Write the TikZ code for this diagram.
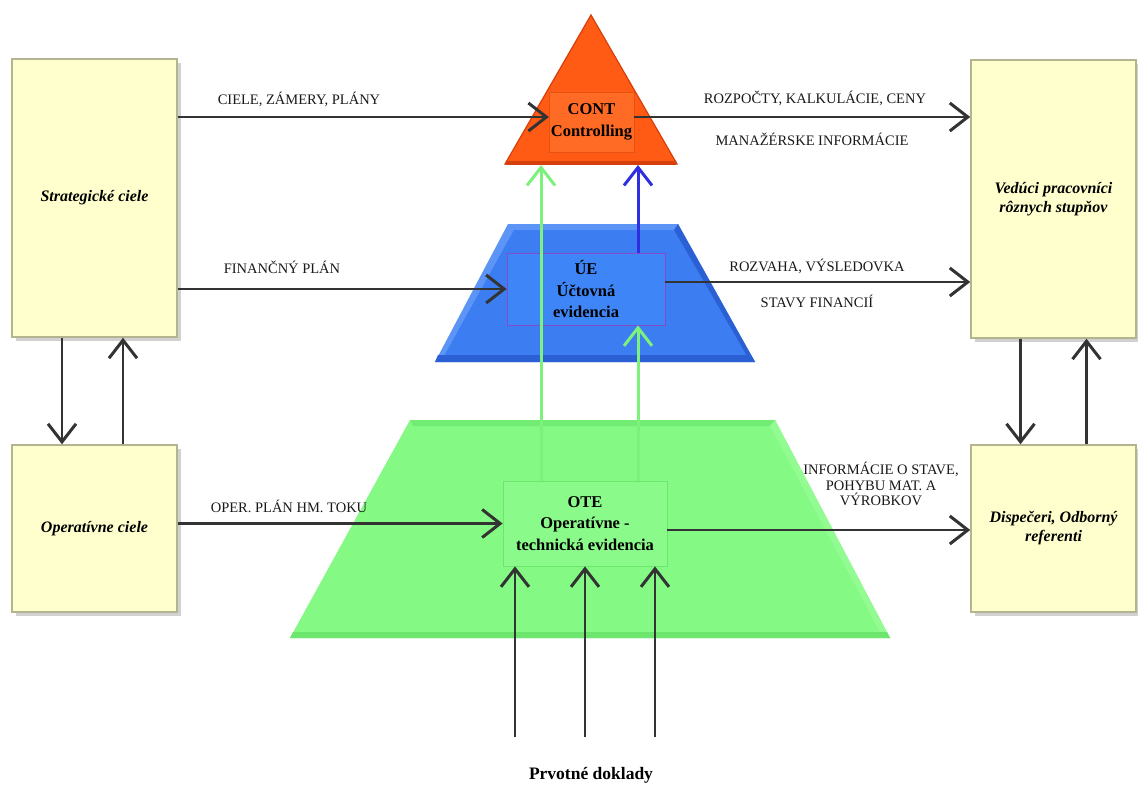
\documentclass[tikz,border=0pt]{standalone}
\usepackage{fontspec}
\setmainfont{Liberation Serif}
\usetikzlibrary{arrows.meta,shadows,calc}

\definecolor{boxfill}{HTML}{FFFFCE}
\definecolor{boxline}{HTML}{B4B48E}
\definecolor{orangeface}{HTML}{FF5B14}
\definecolor{orangeedge}{HTML}{D63E0A}
\definecolor{orangeinner}{HTML}{FF6A24}
\definecolor{blueface}{HTML}{3C7EF2}
\definecolor{bluelight}{HTML}{5C95F6}
\definecolor{bluedark}{HTML}{2A60D4}
\definecolor{blueinner}{HTML}{3E86F8}
\definecolor{greenface}{HTML}{84F984}
\definecolor{greenlight}{HTML}{92FB92}
\definecolor{greendark}{HTML}{6CE66C}
\definecolor{greeninner}{HTML}{8AFB8A}
\definecolor{arrowgreen}{HTML}{7CF27C}
\definecolor{arrowblue}{HTML}{2F2FE0}
\definecolor{ink}{HTML}{333333}

\tikzset{
  ybox/.style={draw=boxline, line width=1.5pt, fill=boxfill,
    drop shadow={shadow xshift=4pt, shadow yshift=-4pt, fill=black!40, opacity=.45},
    font=\bfseries\itshape\fontsize{16}{19}\selectfont, align=center,
    inner sep=0pt, minimum width=165pt},
  core/.style={font=\bfseries\fontsize{16.5}{21.5}\selectfont, align=center, inner sep=0pt},
  lbl/.style={font=\fontsize{14.5}{15.5}\selectfont, align=center, inner sep=0pt, text=black!90},
  flow/.style={draw=ink, line width=2.8pt,
    -{Straight Barb[length=18pt,width=28pt,line width=3pt]}},
  gflow/.style={draw=arrowgreen, line width=3pt,
    -{Straight Barb[length=18pt,width=28pt,line width=3pt]}},
  bflow/.style={draw=arrowblue, line width=3pt,
    -{Straight Barb[length=18pt,width=28pt,line width=3pt]}},
}

\begin{document}
\begin{tikzpicture}[x=1pt,y=-1pt]
\useasboundingbox (0,0) rectangle (1138,790);
\fill[white] (0,0) rectangle (1138,790);

% --- pyramid levels ---
% lower level (green)
\fill[greenface] (410,420) -- (775,420) -- (890,638) -- (290,638) -- cycle;
\fill[greendark!70!greenface] (410,420) -- (775,420) -- (772,426) -- (413,426) -- cycle;
\fill[greenlight] (775,420) -- (890,638) -- (880,632) -- (770,426) -- cycle;
\fill[greendark] (293,632) -- (887,632) -- (890,638) -- (290,638) -- cycle;

% middle level (blue)
\fill[bluelight] (508,224) -- (678,224) -- (755,362) -- (435,362) -- cycle;
\fill[blueface] (514,230) -- (674,230) -- (747,356) -- (444,356) -- cycle;
\fill[bluedark] (674,230) -- (678,224) -- (755,362) -- (747,356) -- cycle;
\fill[bluedark] (438,355) -- (751,355) -- (755,362) -- (435,362) -- cycle;

% top level (orange)
\fill[orangeface, draw=orangeedge, line width=1.2pt] (591,15) -- (677,164) -- (505,164) -- cycle;
\draw[orangeedge, line width=4pt] (506,163) -- (676,163);

% --- inner nodes ---
\node[core, fill=orangeinner, draw=orangeface!90!black, line width=0.3pt,
      minimum width=85pt, minimum height=60pt] (cont) at (591.5,122) {CONT\\Controlling};
\node[core, fill=blueinner, draw=violet!60!blue!70, line width=0.8pt,
      minimum width=158pt, minimum height=72pt] (ue) at (586,289) {ÚE\\Účtovná\\evidencia};
\node[core, fill=greeninner, draw=greendark, line width=0.8pt,
      minimum width=164pt, minimum height=85pt] (ote) at (585,523.5) {OTE\\Operatívne -\\technická evidencia};

% --- side boxes ---
\node[ybox, minimum height=278pt] (strat) at (94.5,198) {Strategické ciele};
\node[ybox, minimum height=167pt] (oper) at (94.5,528.5) {Operatívne ciele};
\node[ybox, minimum height=278pt] (ved) at (1053.5,199) {Vedúci pracovníci\\rôznych stupňov};
\node[ybox, minimum height=167pt] (disp) at (1053.5,528.5) {Dispečeri, Odborný\\referenti};

\coordinate (apexbase) at (591,165);
\coordinate (src) at (585,737);

% --- internal flows ---
\draw[gflow] ([xshift=-44pt]ote.north) -- ([xshift=-44pt]ote.north |- apexbase);
\draw[gflow] ([xshift=53pt]ote.north) -- ([xshift=53pt]ote.north |- ue.south);
\draw[bflow] ([xshift=52pt]ue.north) -- ([xshift=52pt]ue.north |- apexbase);

% --- primary documents ---
\draw[flow] ([xshift=-70pt]src) -- ([xshift=-70pt]src |- ote.south);
\draw[flow] (src) -- (src |- ote.south);
\draw[flow] ([xshift=70pt]src) -- ([xshift=70pt]src |- ote.south);
\node[core, font=\bfseries\fontsize{17.5}{20}\selectfont] (doklady) at (591,775) {Prvotné doklady};

% --- horizontal flows ---
\draw[flow] (strat.east |- 0,117) -- ([yshift=5pt]cont.west);
\draw[flow] ([yshift=5pt]cont.east) -- ([yshift=5pt]cont.east -| ved.west);
\draw[flow] (strat.east |- ue.west) -- (ue.west);
\draw[flow] ([yshift=7pt]ue.east) -- ([yshift=7pt]ue.east -| ved.west);
\draw[flow] (oper.east |- ote.west) -- (ote.west);
\draw[flow] ([yshift=-6.5pt]ote.east) -- ([yshift=-6.5pt]ote.east -| disp.west);

% --- vertical flows between levels of goals and recipients ---
\draw[flow] ([xshift=-32.5pt]strat.south) -- ([xshift=-32.5pt]oper.north);
\draw[flow] ([xshift=28.5pt]oper.north) -- ([xshift=28.5pt]strat.south);
\draw[flow] ([xshift=-33pt]ved.south) -- ([xshift=-33pt]disp.north);
\draw[flow] ([xshift=33pt]disp.north) -- ([xshift=33pt]ved.south);

% --- flow labels ---
\node[lbl] (l1) at (299,99) {CIELE, ZÁMERY, PLÁNY};
\node[lbl] (l2) at (815,98) {ROZPOČTY, KALKULÁCIE, CENY};
\node[lbl] (l3) at (812,139) {MANAŽÉRSKE INFORMÁCIE};
\node[lbl] (l4) at (282,267) {FINANČNÝ PLÁN};
\node[lbl] (l5) at (817,266) {ROZVAHA, VÝSLEDOVKA};
\node[lbl] (l6) at (817,301) {STAVY FINANCIÍ};
\node[lbl] (l7) at (289,506) {OPER. PLÁN HM. TOKU};
\node[lbl] (l8) at (881,484) {INFORMÁCIE O STAVE,\\POHYBU MAT. A\\VÝROBKOV};
\end{tikzpicture}
\end{document}
